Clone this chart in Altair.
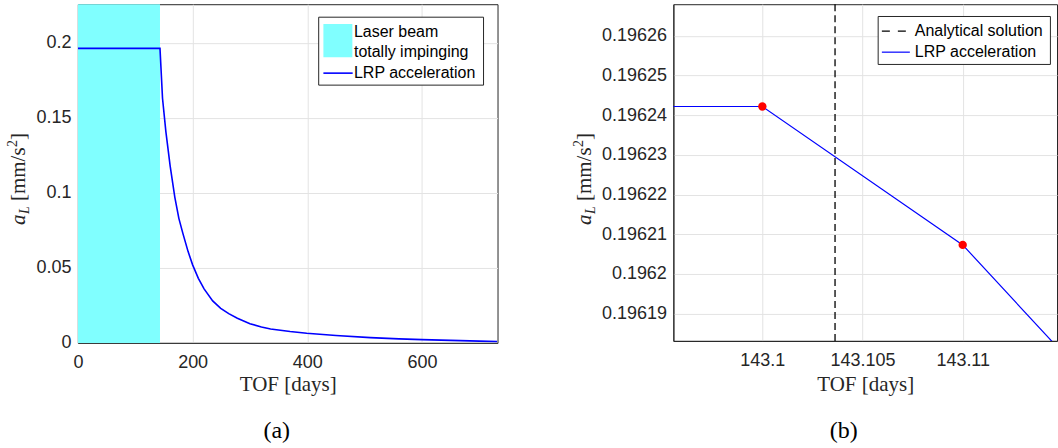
import altair as alt
import pandas as pd

# ---------------- data ----------------
# panel (a): LRP acceleration vs time of flight
tof_a = [0, 143.1, 147.5, 153.3, 160.8, 169, 176, 183, 192, 200, 210, 220, 235,
         249, 263, 278, 300, 320, 336, 370, 399, 450, 510, 560, 600, 650, 700, 731]
acc_a = [0.19624, 0.19624, 0.163, 0.141, 0.118, 0.097, 0.083, 0.073, 0.061, 0.052,
         0.043, 0.036, 0.028, 0.023, 0.0195, 0.0164, 0.0128, 0.0106, 0.0093, 0.0076,
         0.0064, 0.0049, 0.0035, 0.0027, 0.0022, 0.0017, 0.0012, 0.0009]
beam_start = [0.0]
beam_end = [143.1]

# panel (b): zoom around the end of total impingement
tof_b = [143.0950, 143.1, 143.11, 143.1150]
acc_b = [0.1962422, 0.1962422, 0.1962073, 0.1961800]
dot_tof = [143.1, 143.11]
dot_acc = [0.1962422, 0.1962073]
analytical_tof = [143.103628]

xa_ticks = [0, 200, 400, 600]
ya_ticks = [0, 0.05, 0.1, 0.15, 0.2]
xb_ticks = [143.1, 143.105, 143.11]
yb_ticks = [0.19619, 0.1962, 0.19621, 0.19622, 0.19623, 0.19624, 0.19625, 0.19626]

# ---------------- styling ----------------
SANS = "Liberation Sans"
SERIF = "Liberation Serif"
DARK = "#262626"
GRID = "#e3e3e3"
BLUE = "#0000ff"
CYAN = "#80ffff"

one = pd.DataFrame({"k": [0]})


def x_axis(ticks, fmt, title_y):
    return alt.Axis(values=ticks, format=fmt, title="TOF [days]", ticks=False,
                    labelPadding=20, labelBaseline="middle", labelFlush=False,
                    labelOverlap=False, labelFont=SANS, labelFontSize=18,
                    labelColor=DARK, titleFont=SERIF, titleFontSize=21,
                    titleFontWeight="normal", titleColor=DARK, titleY=title_y,
                    titleBaseline="middle", grid=True, gridColor=GRID,
                    domainColor=DARK)


def y_axis(ticks, fmt):
    return alt.Axis(values=ticks, format=fmt, title=None, ticks=False,
                    labelPadding=7, labelBaseline="middle", labelFlush=False,
                    labelOverlap=False, labelFont=SANS, labelFontSize=18,
                    labelColor=DARK, grid=True, gridColor=GRID, domainColor=DARK)


def rot_text(text, x0, y0, size, italic=False):
    kw = dict(text=text, angle=270, align="left", baseline="alphabetic",
              font=SERIF, fontSize=size, color=DARK)
    if italic:
        kw["fontStyle"] = "italic"
    return alt.Chart(one).mark_text(**kw).encode(x=alt.value(x0), y=alt.value(y0))


def ytitle(x0, y0):
    return [
        rot_text("a", x0, y0, 21, italic=True),
        rot_text("L", x0 + 4, y0 - 11, 14, italic=True),
        rot_text("[mm/s", x0, y0 - 24, 21),
        rot_text("2", x0 - 8, y0 - 78, 14),
        rot_text("]", x0, y0 - 85, 21),
    ]


def panel_label(text, x0, y0):
    return alt.Chart(one).mark_text(text=text, align="center", baseline="middle",
                                    font=SERIF, fontSize=24, color="#000000"
                                    ).encode(x=alt.value(x0), y=alt.value(y0))


def legend_text(text, x0, y0):
    return alt.Chart(one).mark_text(text=text, align="left", baseline="middle",
                                    font=SANS, fontSize=16, color="#000000"
                                    ).encode(x=alt.value(x0), y=alt.value(y0))


# ---------------- panel (a) ----------------
xa = alt.Scale(domain=[0, 731.7], nice=False, zero=False)
ya = alt.Scale(domain=[0, 0.2257], nice=False, zero=False)

df_a = pd.DataFrame({"tof": tof_a, "acc": acc_a})
df_beam = pd.DataFrame({"start": beam_start, "end": beam_end})

beam = alt.Chart(df_beam).mark_rect(color=CYAN, opacity=1).encode(
    x=alt.X("start:Q", scale=xa, axis=x_axis(xa_ticks, "d", 42)),
    x2="end:Q",
    y=alt.value(0), y2=alt.value(339))

line_a = alt.Chart(df_a).mark_line(color=BLUE, strokeWidth=1.6, clip=True).encode(
    x=alt.X("tof:Q", scale=xa),
    y=alt.Y("acc:Q", scale=ya, axis=y_axis(ya_ticks, "~g")))

leg_a = [
    alt.Chart(one).mark_rect(fill="white", stroke=DARK, strokeWidth=1).encode(
        x=alt.value(241), x2=alt.value(406), y=alt.value(13), y2=alt.value(81)),
    alt.Chart(one).mark_rect(color=CYAN).encode(
        x=alt.value(245.7), x2=alt.value(274.7), y=alt.value(19.7), y2=alt.value(53)),
    alt.Chart(one).mark_rule(color=BLUE, strokeWidth=1.6).encode(
        x=alt.value(245.7), x2=alt.value(275), y=alt.value(69)),
    legend_text("Laser beam", 276.3, 28),
    legend_text("totally impinging", 276.3, 48),
    legend_text("LRP acceleration", 276.3, 69),
]

left = alt.layer(beam, line_a, *leg_a, *ytitle(-53, 221),
                 panel_label("(a)", 199, 427)).properties(width=420, height=339)

# ---------------- panel (b) ----------------
xb = alt.Scale(domain=[143.095559, 143.114706], nice=False, zero=False)
yb = alt.Scale(domain=[0.1961831, 0.196268], nice=False, zero=False)

df_b = pd.DataFrame({"tof": tof_b, "acc": acc_b})
df_dot = pd.DataFrame({"tof": dot_tof, "acc": dot_acc})
df_an = pd.DataFrame({"tof": analytical_tof})

an_rule = alt.Chart(df_an).mark_rule(color="#000000", strokeWidth=1.3, strokeDash=[7, 4]).encode(
    x=alt.X("tof:Q", scale=xb, axis=x_axis(xb_ticks, ".3~f", 44)))

line_b = alt.Chart(df_b).mark_line(color=BLUE, strokeWidth=1.2, clip=True).encode(
    x=alt.X("tof:Q", scale=xb),
    y=alt.Y("acc:Q", scale=yb, axis=y_axis(yb_ticks, ".5~f")))

dots = alt.Chart(df_dot).mark_circle(color="#ff0000", size=70, opacity=1).encode(
    x=alt.X("tof:Q", scale=xb), y=alt.Y("acc:Q", scale=yb))

leg_b = [
    alt.Chart(one).mark_rect(fill="white", stroke=DARK, strokeWidth=1).encode(
        x=alt.value(205), x2=alt.value(377.4), y=alt.value(12.3), y2=alt.value(60.3)),
    alt.Chart(one).mark_rule(color="#000000", strokeWidth=1.3, strokeDash=[8, 8]).encode(
        x=alt.value(208.7), x2=alt.value(233.7), y=alt.value(27)),
    alt.Chart(one).mark_rule(color=BLUE, strokeWidth=1.2).encode(
        x=alt.value(208.7), x2=alt.value(236.7), y=alt.value(48)),
    legend_text("Analytical solution", 241.7, 27),
    legend_text("LRP acceleration", 241.7, 48),
]

right = alt.layer(an_rule, line_b, dots, *leg_b, *ytitle(-82, 221),
                  panel_label("(b)", 170.5, 427)).properties(width=384, height=337)

chart = alt.hconcat(left, right, spacing=176, bounds="flush").properties(
    padding={"left": 5, "top": 2, "right": 0, "bottom": 0}
).configure_view(stroke=DARK, strokeWidth=1)

chart.save("out.html", embed_options={"renderer": "svg", "actions": False})
